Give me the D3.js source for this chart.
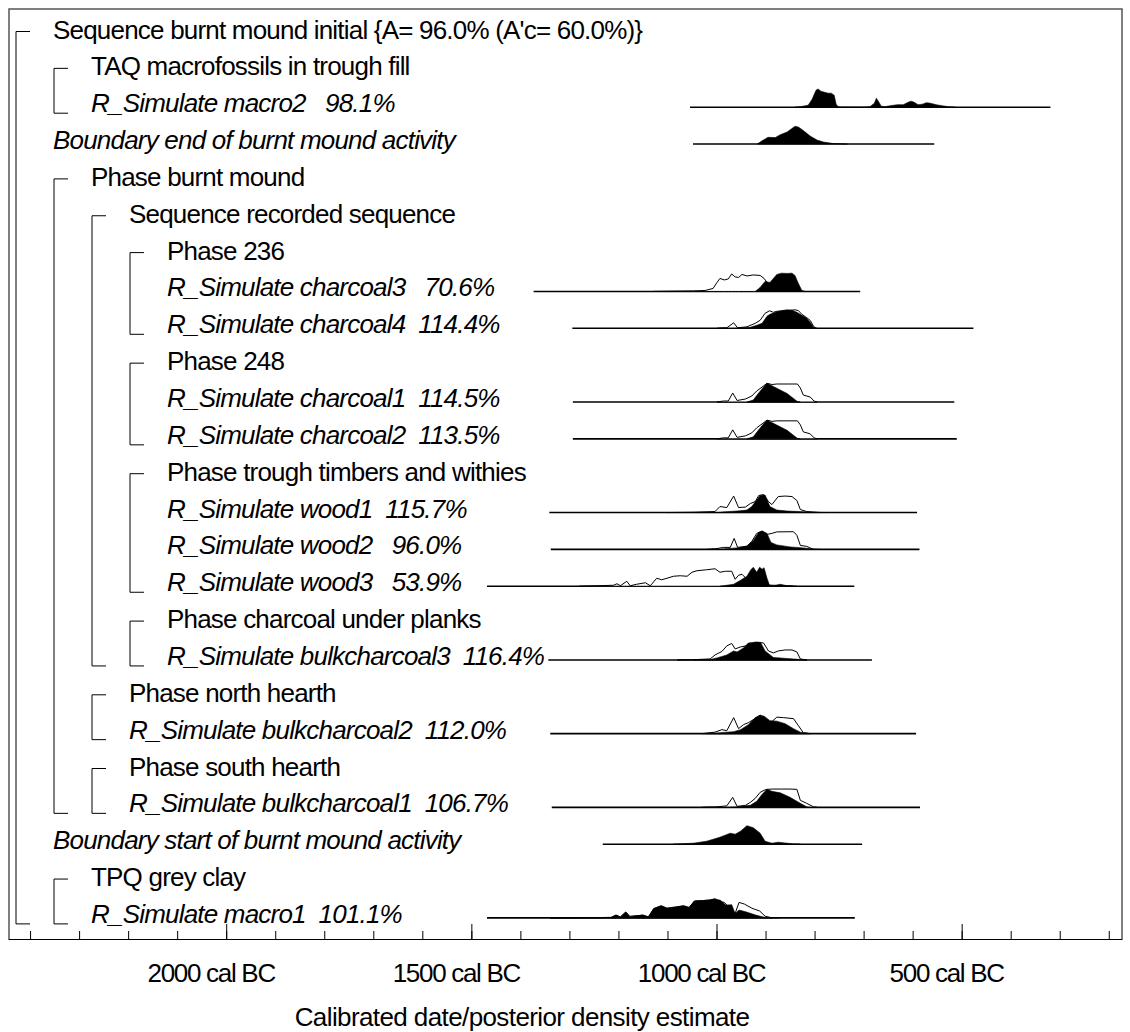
<!DOCTYPE html>
<html>
<head>
<meta charset="utf-8">
<script src="https://cdn.jsdelivr.net/npm/d3@7"></script>
<style>
  body { margin: 0; background: #fff; }
  text { font-family: "Liberation Sans", Arial, sans-serif; font-size: 26px; white-space: pre; letter-spacing: -0.8px; }
</style>
</head>
<body>
<div id="chart"></div>
<script>
// row labels, top to bottom
var labels = [
  "Sequence burnt mound initial {A= 96.0% (A'c= 60.0%)}",
  "TAQ macrofossils in trough fill",
  "R_Simulate macro2   98.1%",
  "Boundary end of burnt mound activity",
  "Phase burnt mound",
  "Sequence recorded sequence",
  "Phase 236",
  "R_Simulate charcoal3   70.6%",
  "R_Simulate charcoal4  114.4%",
  "Phase 248",
  "R_Simulate charcoal1  114.5%",
  "R_Simulate charcoal2  113.5%",
  "Phase trough timbers and withies",
  "R_Simulate wood1  115.7%",
  "R_Simulate wood2   96.0%",
  "R_Simulate wood3   53.9%",
  "Phase charcoal under planks",
  "R_Simulate bulkcharcoal3  116.4%",
  "Phase north hearth",
  "R_Simulate bulkcharcoal2  112.0%",
  "Phase south hearth",
  "R_Simulate bulkcharcoal1  106.7%",
  "Boundary start of burnt mound activity",
  "TPQ grey clay",
  "R_Simulate macro1  101.1%"
];
var textLevel = [0,1,1,0,1,2,3,3,3,3,3,3,3,3,3,3,3,3,2,2,2,2,0,1,1];
var italicRows = [2,3,7,8,10,11,13,14,15,17,19,21,22,24];
// [level, first row, last row]
var brackets = [[0,0,24],[1,1,2],[1,4,21],[2,5,17],[3,6,8],[3,9,11],[3,12,15],[3,16,17],[2,18,19],[2,20,21],[1,23,24]];

// axis ticks (cal BC)
var minorTicks = d3.range(2400, 199, -100);
var majorTicks = [2000, 1500, 1000, 500];
var tickLabels = ["2000 cal BC", "1500 cal BC", "1000 cal BC", "500 cal BC"];
var axisTitle = "Calibrated date/posterior density estimate";

// distributions: [cal BC, relative density]
var macro2Range = [1054, 319];
var macro2Post = [[840,0],[829,0.5],[813,2],[805,8],[797,17],[793,18.3],[787,16],[780,15],[772,14],[766,14],[760,12],[756,3],[752,0.5],[744,0],[700,0],[687,0.5],[678,4],[674,9],[670,6],[664,1],[656,0.5],[646,1.5],[631,2.5],[619,2.5],[609,5],[603,6],[597,5],[589,2.5],[580,3],[572,4.5],[564,4],[552,2.5],[540,1.5],[527,0.5],[513,0]];

var boundEndRange = [1048, 556];
var boundEndPost = [[917,0],[907,3.3],[895,6.7],[880,6.5],[870,9.3],[856,12],[840,17.7],[833,17],[823,13.5],[809,8],[795,4],[782,2],[762,0.5],[733,0]];

var charcoal3Range = [1373, 707];
var charcoal3Prior = [[1129,0],[1047,0.5],[1023,1],[1007,3],[999,9],[993,13],[984,11.5],[976,12.5],[969,17.5],[962,14.5],[955,14],[948,17],[938,15.5],[925,16.5],[911,16],[903,13],[896,8.5],[884,5],[870,3],[856,1.5],[836,0.5],[823,0]];
var charcoal3Post = [[921,0],[911,4],[901,10],[891,9],[884,13],[877,17],[867,18.3],[856,18],[846,18.3],[840,16],[833,8],[826,1],[819,0]];

var charcoal4Range = [1294, 476];
var charcoal4Prior = [[999,0],[979,0.5],[965,5.5],[957,0.5],[938,1.5],[921,5],[911,8],[901,15],[892,17.5],[884,16],[877,17],[863,17.5],[850,18],[840,18.5],[833,17.7],[826,14],[817,11],[809,8],[802,2],[797,0]];
var charcoal4Post = [[993,0],[958,0.3],[931,1],[918,3],[907,5],[897,12],[891,14],[877,16.5],[863,18],[856,18.5],[846,18],[836,16],[826,13],[816,10],[809,6],[802,1],[795,0]];

var charcoal1Range = [1293, 515];
var charcoal1Prior = [[999,0],[986,1],[976,1],[967,9],[958,1.5],[941,3],[928,6],[918,11],[907,15],[897,18.7],[887,17.5],[877,18],[856,18],[835,18],[829,14],[823,7],[809,5],[801,1],[795,0]];
var charcoal1Post = [[938,0],[925,2],[914,9],[904,15],[897,18.7],[884,15.5],[870,12],[856,8.5],[843,3.5],[835,0.5],[829,0]];

var charcoal2Range = [1293, 510];
var charcoal2Prior = [[999,0],[986,1],[976,1],[967,9],[958,1.5],[941,3],[928,6],[918,11],[907,15],[897,18.7],[887,17.5],[877,18],[856,18],[835,18],[829,14],[823,7],[809,5],[801,1],[795,0]];
var charcoal2Post = [[938,0],[925,2],[914,9],[904,15],[897,18.7],[884,15.5],[870,12],[856,8.5],[843,3.5],[835,0.5],[829,0]];

var wood1Range = [1341, 591];
var wood1Prior = [[1101,0],[1047,0.3],[1003,1],[993,6],[979,5],[965,16.5],[955,5],[941,5.5],[931,9],[921,11],[914,17],[904,18],[894,11],[887,8],[874,16],[860,16.5],[846,16],[836,12],[829,3],[816,1],[789,0]];
var wood1Post = [[1047,0],[993,0.5],[958,1.5],[938,2.5],[928,6],[919,12],[911,17],[901,17.5],[891,6],[877,2.5],[856,1.5],[829,1],[802,0.3],[775,0]];

var wood2Range = [1338, 586];
var wood2Prior = [[1020,0],[1003,0.5],[986,2],[972,2],[964,11],[957,2],[938,3],[928,8],[918,16],[907,18.3],[897,15],[887,16],[877,17.5],[843,17.7],[836,14],[829,4],[816,3],[802,0]];
var wood2Post = [[1010,0],[993,0.3],[958,1.5],[938,3.5],[925,9],[914,17],[907,18.3],[897,16],[889,7],[877,4.5],[850,2.5],[823,1.5],[802,0.3],[789,0]];

var wood3Range = [1468, 719];
var wood3Prior = [[1280,0],[1258,0.3],[1210,1],[1203,2.5],[1196,0.5],[1183,5],[1176,0.5],[1163,2],[1145,3.5],[1135,0.5],[1122,8],[1112,6.5],[1101,8],[1088,10],[1074,10.5],[1060,10],[1050,14],[1040,15.5],[1020,16.5],[1003,17.5],[993,14],[982,15],[969,15],[962,7],[955,11],[948,12],[938,7],[925,3],[911,1.5],[884,1],[843,0]];
var wood3Post = [[993,0],[965,2],[951,6],[938,10],[930,16.5],[925,19],[918,14],[912,19],[907,17],[903,18.5],[897,8],[892,1],[884,0.5],[870,2],[856,0.5],[836,0]];

var bulk3Range = [1343, 683];
var bulk3Prior = [[1080,0],[1047,0.3],[1013,1],[1003,5],[989,8.5],[979,14],[969,16.5],[962,11],[951,13],[941,14],[931,16],[918,17.5],[904,17],[894,9],[884,7],[874,9],[860,10],[846,10],[836,8],[829,1],[816,0]];
var bulk3Post = [[1047,0],[1013,0.5],[999,2],[979,5],[965,9],[958,8],[945,12],[935,17],[918,18],[910,17.5],[901,9],[884,2.5],[870,2],[843,1],[816,0]];

var bulk2Range = [1339, 593];
var bulk2Prior = [[1030,0],[1003,1.5],[989,4],[979,3],[965,16],[955,5],[945,9],[935,11],[925,14],[911,18.5],[897,12],[887,12],[877,16.5],[863,16],[843,15],[833,8],[823,1],[809,0]];
var bulk2Post = [[1020,0],[993,1],[965,2],[951,4],[935,9],[921,16],[911,18.5],[903,17.5],[891,13],[877,12.5],[860,10],[843,5],[829,1.5],[809,0]];

var bulk1Range = [1336, 585];
var bulk1Prior = [[1030,0],[999,0.5],[979,1.5],[967,10],[958,1],[941,2],[931,5],[921,9],[911,15],[901,17.5],[897,18],[885,18.3],[870,18.3],[850,18.3],[836,18],[829,7],[816,4],[802,0.5],[795,0]];
var bulk1Post = [[999,0],[958,0.5],[931,2],[918,6],[907,13],[897,18],[887,16],[870,14.5],[850,10],[829,4],[816,0.5],[802,0]];

var boundStartRange = [1232, 703];
var boundStartPost = [[1088,0],[1047,1],[1020,3],[993,7],[972,11],[962,10],[951,13],[938,18.5],[925,16.5],[911,11],[901,3],[887,1],[874,2],[856,1],[843,0.3],[829,0]];

var macro1Range = [1468, 718];
var macro1Prior = [[1339,0],[1264,0.2],[1215,0.5],[1205,2.8],[1196,1],[1185,5.9],[1177,1.5],[1150,2.8],[1139,1],[1128,9.3],[1113,12.1],[1101,9.7],[1082,11],[1067,12.1],[1056,10.4],[1045,16.9],[1029,17.3],[1014,17.9],[1003,19],[996,16.6],[984,15.5],[969,7.6],[962,4.5],[954,15.5],[943,13.8],[928,9.7],[912,6.9],[901,1.7],[886,0]];
var macro1Post = [[1339,0],[1264,0.2],[1215,0.5],[1205,2.8],[1196,1],[1185,5.9],[1177,1.5],[1150,2.8],[1139,1],[1128,9.3],[1113,12.1],[1101,9.7],[1082,11],[1067,12.1],[1056,10.4],[1045,16.9],[1029,17.3],[1014,17.9],[1003,19],[992,17.6],[981,12.8],[969,13.1],[962,4.5],[954,7.9],[939,5.9],[920,2.8],[901,0.5],[871,0]];

var dists = [
  {row: 2, range: macro2Range, post: macro2Post},
  {row: 3, range: boundEndRange, post: boundEndPost},
  {row: 7, range: charcoal3Range, prior: charcoal3Prior, post: charcoal3Post},
  {row: 8, range: charcoal4Range, prior: charcoal4Prior, post: charcoal4Post},
  {row: 10, range: charcoal1Range, prior: charcoal1Prior, post: charcoal1Post},
  {row: 11, range: charcoal2Range, prior: charcoal2Prior, post: charcoal2Post},
  {row: 13, range: wood1Range, prior: wood1Prior, post: wood1Post},
  {row: 14, range: wood2Range, prior: wood2Prior, post: wood2Post},
  {row: 15, range: wood3Range, prior: wood3Prior, post: wood3Post},
  {row: 17, range: bulk3Range, prior: bulk3Prior, post: bulk3Post},
  {row: 19, range: bulk2Range, prior: bulk2Prior, post: bulk2Post},
  {row: 21, range: bulk1Range, prior: bulk1Prior, post: bulk1Post},
  {row: 22, range: boundStartRange, post: boundStartPost},
  {row: 24, range: macro1Range, prior: macro1Prior, post: macro1Post}
];

var width = 1130, height = 1032;
var frameLeft = 9, frameTop = 9, frameRight = 1122, axisY = 939;
var rowTop = 38.5, rowStep = 36.85;

var svg = d3.select("#chart").append("svg")
  .attr("width", width).attr("height", height);

var x = d3.scaleLinear().domain([2445, 173]).range([8, 1122]);
var h = d3.scaleLinear().domain([0, 19]).range([0, 19]);

function textY(i) { return rowTop + rowStep * i; }
function baseY(i) { return textY(i) - 5; }
function bracketX(level) { return 16 + 38 * level; }
function labelX(level) { return bracketX(level) + 37; }

// frame
svg.append("path")
  .attr("d", "M" + frameLeft + "," + axisY + "V" + frameTop + "H" + frameRight + "V" + axisY)
  .attr("fill", "none").attr("stroke", "#555").attr("stroke-width", 1.5);

// brackets
svg.selectAll(".bracket").data(brackets).enter().append("path")
  .attr("class", "bracket")
  .attr("d", function(b) {
    var bx = bracketX(b[0]);
    return "M" + (bx + 14) + "," + (textY(b[1]) - 7) + "H" + bx + "V" + (textY(b[2]) + 1) + "H" + (bx + 14);
  })
  .attr("fill", "none").attr("stroke", "#000").attr("stroke-width", 1);

// distributions
var g = svg.selectAll(".dist").data(dists).enter().append("g").attr("class", "dist");

g.append("line")
  .attr("x1", function(d) { return x(d.range[0]); })
  .attr("x2", function(d) { return x(d.range[1]); })
  .attr("y1", function(d) { return baseY(d.row); })
  .attr("y2", function(d) { return baseY(d.row); })
  .attr("stroke", "#000").attr("stroke-width", 1.6);

g.each(function(d) {
  var base = baseY(d.row);
  var area = d3.area()
    .x(function(p) { return x(p[0]); })
    .y0(base)
    .y1(function(p) { return base - h(p[1]); });
  if (d.prior) {
    d3.select(this).append("path")
      .attr("d", area(d.prior))
      .attr("fill", "#fff").attr("stroke", "#000").attr("stroke-width", 1);
  }
  d3.select(this).append("path")
    .attr("d", area(d.post))
    .attr("fill", "#000").attr("stroke", "#000").attr("stroke-width", 0.6);
});

// row labels
svg.selectAll(".label").data(labels).enter().append("text")
  .attr("class", "label")
  .attr("x", function(d, i) { return labelX(textLevel[i]); })
  .attr("y", function(d, i) { return textY(i); })
  .style("font-style", function(d, i) { return italicRows.indexOf(i) >= 0 ? "italic" : "normal"; })
  .attr("fill", "#000")
  .text(function(d) { return d; });

// axis
var axis = svg.append("g").attr("transform", "translate(0," + axisY + ")");
axis.call(d3.axisTop(x).tickValues(minorTicks).tickSize(8).tickSizeOuter(0).tickFormat(""));
axis.append("g").call(d3.axisTop(x).tickValues(majorTicks).tickSize(15).tickFormat(""))
  .select(".domain").remove();
axis.selectAll("path, line").attr("stroke", "#000");

svg.selectAll(".ticklabel").data(majorTicks).enter().append("text")
  .attr("class", "ticklabel")
  .attr("x", function(d) { return x(d) - 15; })
  .attr("y", 982)
  .attr("text-anchor", "middle")
  .style("letter-spacing", "-1.3px")
  .text(function(d, i) { return tickLabels[i]; });

svg.append("text")
  .attr("x", 522).attr("y", 1026)
  .attr("text-anchor", "middle")
  .style("letter-spacing", "-0.6px")
  .text(axisTitle);
</script>
</body>
</html>
